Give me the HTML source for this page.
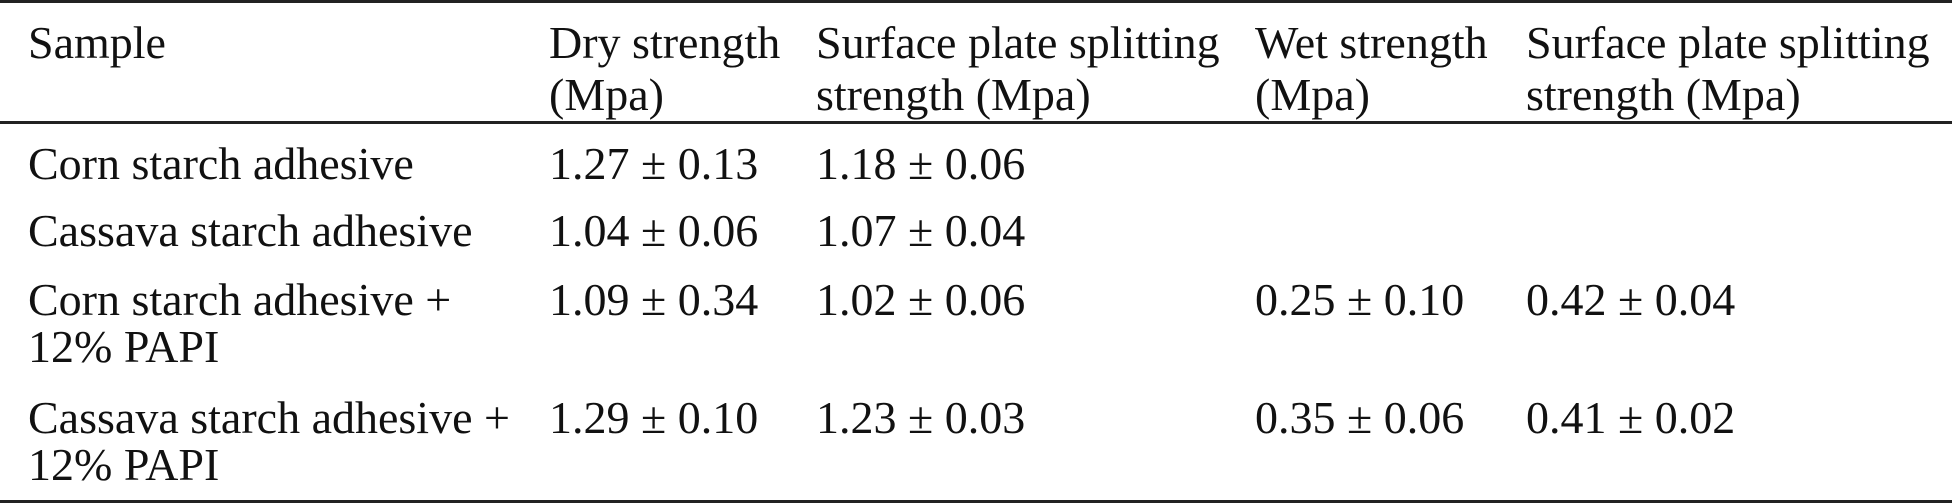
<!DOCTYPE html>
<html><head><meta charset="utf-8"><style>
body{margin:0;width:1952px;height:504px;background:#fff;position:relative;overflow:hidden;font-family:"Liberation Serif",serif;font-size:46px;color:#111}
.r{position:absolute;left:0;top:0;width:1952px;background:#222}
.t{position:absolute;line-height:47px;white-space:nowrap}
.h{line-height:52px}
</style></head><body>
<div class="r" style="top:0;height:3px"></div>
<div class="r" style="top:121px;height:3px"></div>
<div class="r" style="top:500px;height:3px"></div>

<div class="t h" style="left:28px;top:17px">Sample</div>
<div class="t h" style="left:549px;top:17px">Dry strength<br>(Mpa)</div>
<div class="t h" style="left:816px;top:17px">Surface plate splitting<br>strength (Mpa)</div>
<div class="t h" style="left:1255px;top:17px">Wet strength<br>(Mpa)</div>
<div class="t h" style="left:1526px;top:17px">Surface plate splitting<br>strength (Mpa)</div>

<div class="t" style="left:28px;top:140px">Corn starch adhesive</div>
<div class="t" style="left:549px;top:140px">1.27 ± 0.13</div>
<div class="t" style="left:816px;top:140px">1.18 ± 0.06</div>

<div class="t" style="left:28px;top:207px">Cassava starch adhesive</div>
<div class="t" style="left:549px;top:207px">1.04 ± 0.06</div>
<div class="t" style="left:816px;top:207px">1.07 ± 0.04</div>

<div class="t" style="left:28px;top:276px">Corn starch adhesive +<br>12% PAPI</div>
<div class="t" style="left:549px;top:276px">1.09 ± 0.34</div>
<div class="t" style="left:816px;top:276px">1.02 ± 0.06</div>
<div class="t" style="left:1255px;top:276px">0.25 ± 0.10</div>
<div class="t" style="left:1526px;top:276px">0.42 ± 0.04</div>

<div class="t" style="left:28px;top:394px">Cassava starch adhesive +<br>12% PAPI</div>
<div class="t" style="left:549px;top:394px">1.29 ± 0.10</div>
<div class="t" style="left:816px;top:394px">1.23 ± 0.03</div>
<div class="t" style="left:1255px;top:394px">0.35 ± 0.06</div>
<div class="t" style="left:1526px;top:394px">0.41 ± 0.02</div>
</body></html>
